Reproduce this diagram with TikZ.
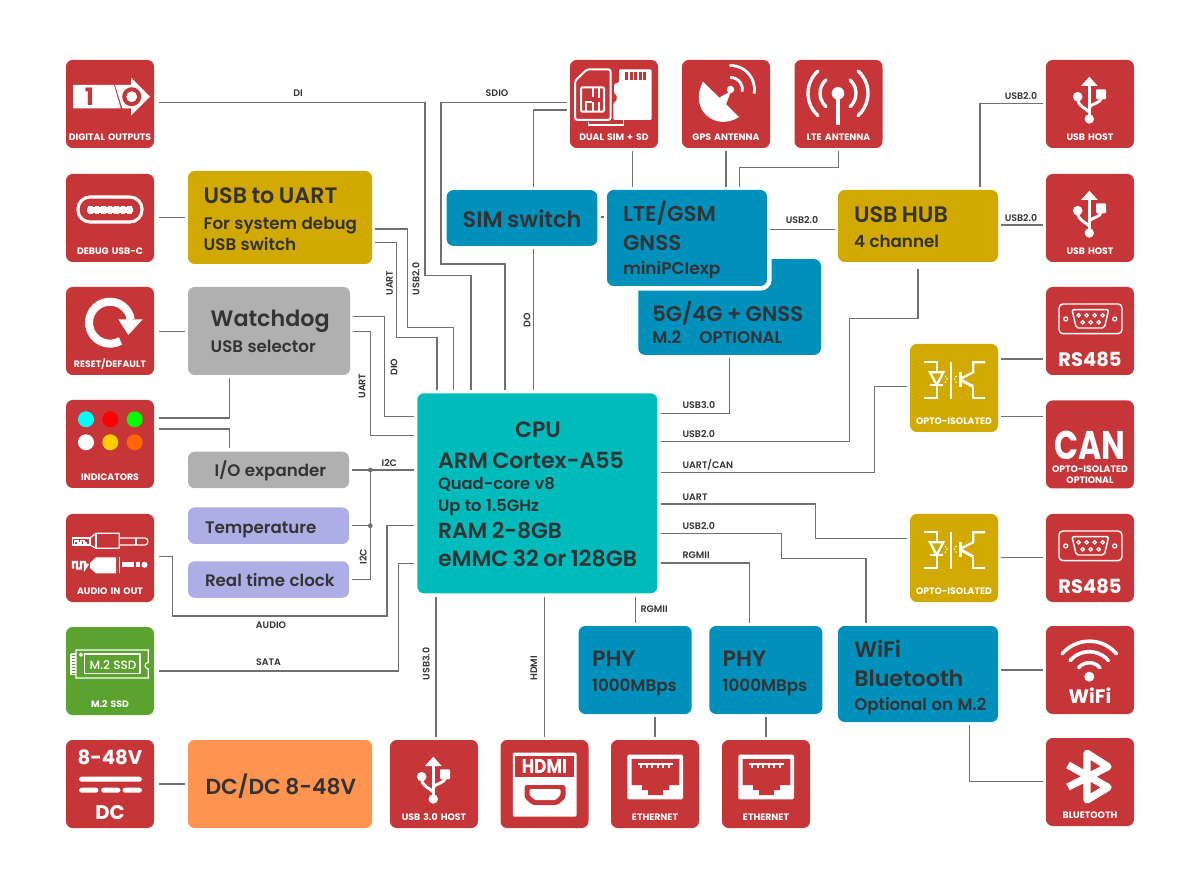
\documentclass[tikz,border=0pt]{standalone}
\usepackage{fontspec}
\setmainfont{Poppins}
\newfontfamily\pmed{Poppins Medium}
\newfontfamily\psemi{Poppins SemiBold}
\newfontfamily\pbold{Poppins Bold}
\newdimen\pxu
\pxu=0.75pt
\newcommand{\fs}[2]{\fontsize{#1}{#2}\selectfont}
\definecolor{cardred}{HTML}{C63638}
\definecolor{boxyellow}{HTML}{D2A900}
\definecolor{boxgray}{HTML}{B0B0B0}
\definecolor{boxblue}{HTML}{0090BC}
\definecolor{boxlilac}{HTML}{AEAEE6}
\definecolor{boxteal}{HTML}{00BBBB}
\definecolor{boxorange}{HTML}{FF9451}
\definecolor{cardgreen}{HTML}{5CA22F}
\definecolor{inkdark}{HTML}{333333}
\definecolor{wiregray}{HTML}{707070}
\definecolor{ledcyan}{HTML}{00FFFF}
\definecolor{ledred}{HTML}{FF0000}
\definecolor{ledgreen}{HTML}{00FF00}
\definecolor{ledyellow}{HTML}{FFCC00}
\definecolor{ledorange}{HTML}{FF6600}
\tikzset{
  sized/.style n args={3}{text width=#1\pxu,minimum height=#2*0.75pt,text height=(#3+1.2)*0.75pt,text depth=(#2-#3-1.2)*0.75pt,inner xsep=0pt,inner ysep=0pt},
  pad/.style={execute at begin node={\leftskip=#1\pxu\relax}},
  box/.style={rounded corners=5pt,outer sep=2.5pt,align=left,text=inkdark,font=\psemi},
  card/.style={sized={88}{88}{#1},rounded corners=5pt,outer sep=2.5pt,fill=cardred,text=white,align=center,font=\pbold\fs{7}{8}},
  leftcard/.style={card=#1,outer sep=3.75pt},
  wire/.style={draw=wiregray,line width=1.05pt},
  lab/.style={text=inkdark,font=\psemi\fs{7.1}{8},inner sep=0pt},
  dot/.style={shape=circle,fill=wiregray,inner sep=0pt,minimum size=3.6pt},
  usbsym/.pic={
    \fill[white] (35,26) -- (51.7,26) -- (43.3,16.7) -- cycle;
    \draw[white,line width=2.4pt] (43.3,26) -- (43.3,59);
    \fill[white] (43.3,59) circle[radius=4.7];
    \fill[white] (31.7,36.7) circle[radius=4.8];
    \fill[white,rounded corners=0.8pt] (50,29.3) rectangle (60,39.3);
    \draw[white,line width=2.2pt] (31.7,38) .. controls (31.7,47) and (40,48) .. (43.3,52);
    \draw[white,line width=2.2pt] (55,38) .. controls (55,43) and (47,43) .. (43.3,47);
  },
  optosym/.pic={
    \draw[white,line width=1.7pt] (14.3,18.3) -- (26.7,18.3) -- (26.7,28.3);
    \draw[white,line width=1.7pt] (20,28.3) -- (33.3,28.3) -- (26.7,41) -- cycle;
    \draw[white,line width=1.7pt] (20,41) -- (33.3,41);
    \draw[white,line width=1.7pt] (26.7,41) -- (26.7,53.7) -- (14.3,53.7);
    \draw[white,line width=1.7pt] (40.7,17.7) -- (40.7,55);
    \draw[white,line width=2.4pt] (50.7,28.3) -- (50.7,42.7);
    \draw[white,line width=1.7pt] (75,18.3) -- (63.3,18.3) -- (63.3,28.3) -- (51,34.5);
    \draw[white,line width=2.2pt] (51,36) -- (63.3,42.7);
    \draw[white,line width=1.7pt] (63.3,42.7) -- (63.3,53.7) -- (75,53.7);
    \fill[white] (35.5,32.5) circle[radius=0.9] (37,35) circle[radius=0.9] (35.5,38) circle[radius=0.9];
    \fill[white] (46,32.5) circle[radius=0.9] (44.5,35) circle[radius=0.9] (46,38) circle[radius=0.9];
  },
  rssym/.pic={
    \draw[white,line width=1.1pt,rounded corners=3pt] (13,17) rectangle (76,46.7);
    \draw[white,line width=1.1pt,rounded corners=1.5pt] (26,22.7) -- (62.7,22.7) -- (58.3,41) -- (30.3,41) -- cycle;
    \draw[white,line width=0.9pt] (19.7,32) circle[radius=2] (68.7,32) circle[radius=2];
    \foreach \x in {32.7,40.7,48.7,56.7}
      \draw[white,line width=0.9pt] (\x,28.3) circle[radius=1.7];
    \foreach \x in {36.7,44.7,52.7}
      \draw[white,line width=0.9pt] (\x,35.3) circle[radius=1.7];
  },
  ethsym/.pic={
    \fill[white,rounded corners=1pt] (16.3,14.7) rectangle (72,59.3);
    \fill[cardred] (20.7,19) -- (68.3,19) -- (68.3,45) -- (58,45) -- (58,50) -- (52,50) -- (52,55) -- (37,55) -- (37,50) -- (31,50) -- (31,45) -- (20.7,45) -- cycle;
    \fill[white] (26.7,22.7) rectangle (61.7,25);
    \foreach \x in {29,34.5,40,45.5,51,56.5}
      \fill[white] (\x,25) rectangle (\x+2,28);
  }
}
\begin{document}
\begin{tikzpicture}[x=0.75pt,y=-0.75pt]
\useasboundingbox (0,0) rectangle (1200,880);

\node[leftcard=79] (dout) at (110,104) {DIGITAL OUTPUTS};
\node[leftcard=79] (debug) at (110,218) {DEBUG USB-C};
\node[leftcard=79] (reset) at (110,331) {RESET/DEFAULT};
\node[leftcard=79] (ind) at (110,444) {INDICATORS};
\node[leftcard=79] (audio) at (110,558) {AUDIO IN OUT};
\node[leftcard=79,fill=cardgreen] (ssd) at (110,671) {M.2 SSD};
\node[leftcard=23] (dcin) at (110,784) {\pbold\fs{14.8}{18}8-48V\\\pbold\fs{14.8}{41.25}DC\par};

\node[card=79] (simcard) at (614,104) {DUAL SIM + SD};
\node[card=79] (gps) at (726,104) {GPS ANTENNA};
\node[card=79] (antn) at (838.5,104) {LTE ANTENNA};
\node[card=79] (hosta) at (1090,104) {USB HOST};
\node[card=79] (hostb) at (1090,218) {USB HOST};
\node[card=78.7,font=\pbold\fs{14.6}{18}] (rsa) at (1090,331) {RS485};
\node[card=57.7] (can) at (1090,444.5) {\pbold\fs{30}{30}\scalebox{0.79}[1]{CAN}\\\pbold\fs{7}{9.5}OPTO-ISOLATED\\\pbold\fs{7}{8.3}OPTIONAL\par};
\node[card=79,fill=boxyellow] (optoa) at (954,388) {OPTO-ISOLATED};
\node[card=79,fill=boxyellow] (optob) at (954,558) {OPTO-ISOLATED};
\node[card=78.7,font=\pbold\fs{14.6}{18}] (rsb) at (1090,558) {RS485};
\node[card=76.7,font=\pbold\fs{14.6}{18}] (wf) at (1090,670) {WiFi};
\node[card=79] (bt) at (1090,782) {BLUETOOTH};
\node[card=79] (usbc) at (434,784) {USB 3.0 HOST};
\node[card=79] (hdmi) at (544.5,784) {};
\node[card=79] (etha) at (655,784) {ETHERNET};
\node[card=79] (ethb) at (766,784) {ETHERNET};

\node[box,fill=boxyellow,sized={184}{93}{31},pad=15.7] (uart) at (280,217.5) {\fs{16.7}{20}USB to UART\\\fs{12.55}{19.5}For system debug\\\fs{12.55}{15.75}USB switch\par};
\node[box,fill=boxgray,sized={162}{88}{38},pad=22.7] (wdog) at (269,331) {\fs{16.7}{20}Watchdog\\\fs{12.5}{19.5}USB selector\par};
\node[box,fill=boxgray,sized={161}{36.5}{24},pad=26.7] (ioex) at (268.5,470) {\fs{12.5}{16}I/O expander};
\node[box,fill=boxlilac,sized={161}{36.5}{24.4},pad=17] (temp) at (268.5,525.7) {\fs{12.5}{16}Temperature};
\node[box,fill=boxlilac,sized={161}{36.5}{23.7},pad=17] (rtc) at (268.5,579.5) {\fs{12.5}{16}Real time clock};
\node[box,fill=boxorange,sized={184}{88}{53.3},pad=17.6] (dcdc) at (280,784) {\fs{16.35}{20}DC/DC 8-48V};

\node[box,fill=boxteal,sized={240}{200}{43.4},pad=20.7] (cpu) at (537.3,493.3) {\fs{16.6}{20}\hspace*{77\pxu}CPU\\\fs{16.6}{22.9}ARM Cortex-A55\\\fs{12.25}{15.75}Quad-core v8\\\fs{12.25}{16.3}Up to 1.5GHz\\\fs{16.4}{20.8}RAM 2-8GB\\\fs{16.6}{20.5}eMMC 32 or 128GB\par};

\node[box,fill=boxblue,sized={150.6}{55.7}{35.7},pad=16] (simsw) at (522,218) {\fs{16.8}{20}SIM switch};
\node[box,fill=boxblue,sized={182.7}{95.7}{60.7},pad=14] (modem) at (729.6,307) {\fs{15.85}{20}5G/4G + GNSS\\\fs{12.6}{17}M.2\hspace*{18\pxu}OPTIONAL\par};
\node[box,fill=boxblue,sized={160}{96}{30},pad=16,preaction={draw=white,line width=7pt}] (lte) at (687,238) {\fs{16.1}{20}LTE/GSM\\\fs{16.1}{21.75}GNSS\\\fs{12.7}{18.2}miniPCIexp\par};
\node[box,fill=boxyellow,sized={160}{72}{31},pad=16] (hub) at (918,226) {\fs{16.75}{20}USB HUB\\\fs{12.55}{19.3}4 channel\par};
\node[box,fill=boxblue,sized={160}{96}{30.7},pad=16.3] (wifibt) at (918,674) {\fs{16.65}{20}WiFi\\\fs{16.65}{21.75}Bluetooth\\\fs{12.45}{17.5}Optional on M.2\par};
\node[box,fill=boxblue,sized={113}{88}{39.3},pad=13.3] (phya) at (635.2,670) {\fs{16.65}{20}PHY\\\fs{12.55}{18.5}1000MBps\par};
\node[box,fill=boxblue,sized={113}{88}{39.3},pad=13.3] (phyb) at (765.8,670) {\fs{16.65}{20}PHY\\\fs{12.55}{18.5}1000MBps\par};

\fill[white] (73,85) -- (114,85) -- (120.7,108.3) -- (73,108.3) -- cycle;
\fill[white] (115,85) -- (131,85) -- (131,77.7) -- (150,96.7) -- (131,115.7) -- (131,108.3) -- (122.3,108.3) -- cycle;
\fill[cardred] (131.7,96.7) circle[radius=9.5];
\fill[white] (131.7,96.7) circle[radius=5.4];
\node[text=cardred,font=\pbold\fs{18}{20},inner sep=0pt] (onedigit) at (89.5,96.7) {1};

\draw[white,line width=2.3pt,rounded corners=9pt] (78,197) rectangle (142,222);
\fill[white,rounded corners=1pt] (87,207) rectangle (133,213);
\foreach \x in {88,94.5,101,107.5,114,120.5,127}
  \fill[white] (\x,205.7) rectangle (\x+4.5,214.3);

\draw[white,line width=6pt] (110,322.7) ++(-8:21) arc[start angle=-8,end angle=-300,radius=21];
\fill[white] (118.3,319.3) -- (142.7,319.3) -- (128.3,335) -- cycle;

\fill[ledcyan] (86,419.3) circle[radius=8];
\fill[ledred] (110.3,419.3) circle[radius=8];
\fill[ledgreen] (134.7,419.3) circle[radius=8];
\fill[white] (86,442.3) circle[radius=8];
\fill[ledyellow] (110.3,442.3) circle[radius=8];
\fill[ledorange] (134.7,442.3) circle[radius=8];

\begin{scope}[shift={(66,514)}]
\draw[white,line width=0.9pt] (6.7,24) rectangle (24,31);
\draw[white,line width=0.8pt] (8.5,31) -- (8.5,27) -- (12,27) -- (12,29) -- (15,29) -- (15,26.5) -- (18,26.5) -- (18,29) -- (21,29);
\draw[white,line width=0.9pt] (24,24) -- (30,19.3) -- (53.3,19.3) -- (53.3,34.3) -- (30,34.3) -- (24,31);
\draw[white,line width=0.9pt] (30,19.3) -- (30,34.3);
\draw[white,line width=0.9pt,rounded corners=2pt] (53.3,24) -- (81.7,24) -- (81.7,31) -- (53.3,31);
\draw[white,line width=0.9pt] (70,24) -- (70,31);
\draw[white,line width=1.6pt] (7,54.5) -- (7,48) -- (11,48) -- (11,54.5) -- (15,54.5) -- (15,48) -- (19,48) -- (19,54.5) -- (22,50);
\fill[white] (24,49) -- (30,43.3) -- (50,43.3) -- (50,59.3) -- (30,59.3) -- (24,54) -- cycle;
\draw[white,line width=0.9pt] (53.3,43.3) -- (53.3,59.3);
\fill[white] (56,48.3) rectangle (68.3,53.3);
\fill[white] (69.7,48.3) rectangle (74,53.3);
\fill[white] (78.5,50.8) circle[radius=3];
\end{scope}

\begin{scope}[shift={(66,627)}]
\draw[white,line width=0.9pt] (10,23) -- (82.3,23) -- (82.3,35.5) arc[start angle=-90,end angle=-270,radius=3.2] -- (82.3,51) -- (10,51) -- cycle;
\draw[white,line width=0.9pt] (18.3,27) rectangle (74,46.3);
\draw[white,line width=0.8pt] (15,27.7) circle[radius=1.5];
\foreach \y in {27,30,33,36,39,42,45,47.7}
  \draw[white,line width=0.8pt] (5,\y) -- (10,\y);
\draw[white,line width=0.8pt] (5,27) -- (5,47.7);
\node[text=white,font=\pmed\fs{9}{11},inner sep=0pt] (ssdlabel) at (47,37.7) {M.2 SSD};
\end{scope}

\fill[white,rounded corners=2pt] (79,776.7) rectangle (142,781.7);
\foreach \x in {79,101,122.5}
  \fill[white,rounded corners=2pt] (\x,787.7) rectangle (\x+19.5,792.7);

\begin{scope}[shift={(570,60)}]
\draw[white,line width=1.5pt,rounded corners=2pt] (5,21) -- (17,9.3) -- (40.7,9.3) -- (40.7,60) -- (5,60) -- cycle;
\draw[white,line width=1.5pt,rounded corners=1pt] (11,27.3) rectangle (34,51.7);
\draw[white,line width=1.5pt] (16,51) -- (16,42) -- (22,42);
\draw[white,line width=1.5pt] (23,28) -- (23,37) (29,28) -- (29,38) (29,42) -- (29,51) (23,42) -- (23,51);
\fill[white,rounded corners=1pt] (49,9.3) -- (81.7,9.3) -- (81.7,60) -- (43.3,60) -- (43.3,43) -- (46.7,41) -- (46.7,35) -- (44,33.3) -- (44,24) -- (49,22.7) -- cycle;
\foreach \x in {55,59.5,64,68.5,73}
  \fill[cardred] (\x,12.3) rectangle (\x+3.3,20);
\draw[white,line width=1.2pt] (18.3,61.7) -- (18.3,65) -- (53.3,65) -- (53.3,60);
\end{scope}

\begin{scope}[shift={(682,60)}]
\fill[white] (21,21.7) .. controls (6,50) and (34,72) .. (57,57) -- cycle;
\fill[white] (35,39) -- (43,47) -- (49,31) -- cycle;
\fill[white] (48.5,29.5) circle[radius=3.7];
\draw[white,line width=2.1pt] (48.5,29.5) ++(-92:12) arc[start angle=-92,end angle=10,radius=12];
\draw[white,line width=2.1pt] (48.5,29.5) ++(-92:24) arc[start angle=-92,end angle=10,radius=24];
\end{scope}

\begin{scope}[shift={(794.5,60)}]
\fill[white] (43.5,33.3) circle[radius=6.3];
\draw[white,line width=3pt] (43.5,33.3) -- (43.5,65);
\foreach \r in {18,30}
  {\draw[white,line width=2.5pt,line cap=round] (43.5,33.3) ++(-48:\r) arc[start angle=-48,end angle=48,radius=\r];
   \draw[white,line width=2.5pt,line cap=round] (43.5,33.3) ++(132:\r) arc[start angle=132,end angle=228,radius=\r];}
\end{scope}

\pic at (1046,60) {usbsym};
\pic at (1046,174) {usbsym};
\pic at (390,740) {usbsym};
\pic at (910,344) {optosym};
\pic at (910,514) {optosym};
\pic at (1046,287) {rssym};
\pic at (1046,514) {rssym};
\pic at (611,740) {ethsym};
\pic at (722,740) {ethsym};

\begin{scope}[shift={(500.5,740)}]
\fill[white,rounded corners=1pt] (12.3,12.7) rectangle (76,76.7);
\fill[cardred] (14.5,16) rectangle (73.8,36.7);
\node[text=white,font=\pbold\fs{15}{17},inner sep=0pt] (hdmiword) at (44,26.5) {\scalebox{0.85}[1]{HDMI}};
\fill[cardred,rounded corners=2pt] (24,45) -- (65,45) -- (65,58) -- (57,65) -- (32,65) -- (24,58) -- cycle;
\fill[white,rounded corners=1pt] (29,49) -- (60,49) -- (60,55) -- (55,60) -- (34,60) -- (29,55) -- cycle;
\end{scope}

\begin{scope}[shift={(1046,626)}]
\fill[white] (43.3,50.7) circle[radius=5];
\foreach \r in {14,25,35.5}
  \draw[white,line width=2.7pt,line cap=round] (43.3,50.7) ++(-140:\r) arc[start angle=-140,end angle=-40,radius=\r];
\end{scope}

\begin{scope}[shift={(1046,738)}]
\draw[white,line width=5.5pt,line join=round] (22,27) -- (62,49.3) -- (41,62) -- (41,15.3) -- (62,28.7) -- (22,49);
\end{scope}

\node[dot] (i2ca) at (370.3,470) {};
\node[dot] (i2cb) at (370.3,525.7) {};

\draw[wire] (dout.east |- 0,102.5) -| (425,275.5) -| (471,0 |- cpu.north);
\draw[wire] (uart.east |- 0,229) -| (407.5,327.5) -| (453.5,0 |- cpu.north);
\draw[wire] (uart.east |- 0,242.5) -| (396.5,337.5) -| (437,0 |- cpu.north);
\draw[wire] (simcard.west |- 0,102.5) -| (441,264) -| (505,0 |- cpu.north);
\draw[wire] (simcard.west |- 0,110) -| (533.5,0 |- simsw.north);
\draw[wire] (533.5,0 |- simsw.south) -- (533.5,0 |- cpu.north);
\draw[wire] (simsw.east |- 0,217) -- (lte.west |- 0,217);
\draw[wire] (632.7,0 |- simcard.south) -- (632.7,0 |- lte.north);
\draw[wire] (gps.south) -- (gps.south |- lte.north);
\draw[wire] (antn.south) |- (739.5,167.5) -- (739.5,0 |- lte.north);
\draw[wire] (lte.east |- 0,229.5) -- (hub.west |- 0,229.5);
\draw[wire] (modem.south) |- (cpu.east |- 0,413.5);
\draw[wire] ([yshift=-3pt]hub.south) |- (849.5,318.5) |- (cpu.east |- 0,441.5);
\draw[wire] (optoa.west |- 0,386.7) -| (874.5,472.3) -- (cpu.east |- 0,472.3);
\draw[wire] (optoa.east |- 0,359) -- (rsa.west |- 0,359);
\draw[wire] (optoa.east |- 0,416.7) -- (can.west |- 0,416.7);
\draw[wire] (980,0 |- hub.north) |- (hosta.west |- 0,103.3);
\draw[wire] (hub.east |- 0,225) -- (hostb.west |- 0,225);
\draw[wire] (cpu.east |- 0,504) -| (815.7,538.7) -- (optob.west |- 0,538.7);
\draw[wire] (cpu.east |- 0,533.7) -| (781.7,558.3) -| (866,0 |- wifibt.north);
\draw[wire] (cpu.east |- 0,563) -| (749.3,0 |- phyb.north);
\draw[wire] (phya.north |- cpu.south) -- (phya.north);
\draw[wire] (436,0 |- cpu.south) -- (436,0 |- usbc.north);
\draw[wire] (hdmi.north |- cpu.south) -- (hdmi.north);
\draw[wire] (etha.north |- phya.south) -- (etha.north);
\draw[wire] (ethb.north |- phyb.south) -- (ethb.north);
\draw[wire] (optob.east |- 0,557.7) -- (rsb.west |- 0,557.7);
\draw[wire] (wifibt.east |- 0,670) -- (wf.west |- 0,670);
\draw[wire] (969.3,0 |- wifibt.south) |- (bt.west |- 0,781.7);
\draw[wire] (debug.east |- 0,217.7) -- (uart.west |- 0,217.7);
\draw[wire] (reset.east |- 0,331.5) -- (wdog.west |- 0,331.5);
\draw[wire] (dcin.east) -- (dcdc.west);
\draw[wire] (wdog.east |- 0,316.7) -| (384.5,416.5) -- (cpu.west |- 0,416.5);
\draw[wire] (wdog.east |- 0,331.7) -| (370.3,435.7) -- (cpu.west |- 0,435.7);
\draw[wire] (ind.east |- 0,418) -| (229.3,0 |- wdog.south);
\draw[wire] (ind.east |- 0,429) -| (229.3,0 |- ioex.north);
\draw[wire] (ioex.east) -- (cpu.west |- ioex.east);
\draw[wire] (temp.east) -- (i2cb.center);
\draw[wire] (rtc.east) -| (i2ca.center);
\draw[wire] (audio.east |- 0,556.7) -| (172.3,616) -| (387,525.7) -- (cpu.west |- 0,525.7);
\draw[wire] (ssd.east |- 0,671) -| (398.7,563.3) -- (cpu.west |- 0,563.3);

\node[lab] (ldi) at (298,93) {DI};
\node[lab] (lsdio) at (497,93) {SDIO};
\node[lab] (lhosta) at (1021,96) {USB2.0};
\node[lab] (lhostb) at (1021,218) {USB2.0};
\node[lab] (lhub) at (802,220.5) {USB2.0};
\node[lab,rotate=90] (luart) at (389.5,283) {UART};
\node[lab,rotate=90] (lusbd) at (416,279) {USB2.0};
\node[lab,rotate=90] (ldio) at (394,367) {DIO};
\node[lab,rotate=90] (lwd) at (362,386) {UART};
\node[lab,rotate=90] (ldo) at (527,320) {DO};
\node[lab,anchor=west] (lusbt) at (682.3,405.3) {USB3.0};
\node[lab,anchor=west] (lusbh) at (682.3,433.7) {USB2.0};
\node[lab,anchor=west] (lcan) at (682.3,464.7) {UART/CAN};
\node[lab,anchor=west] (lur) at (682.3,497) {UART};
\node[lab,anchor=west] (lusbw) at (682.3,526.3) {USB2.0};
\node[lab,anchor=west] (lrga) at (682.3,554.7) {RGMII};
\node[lab,anchor=west] (lrgb) at (640.3,609) {RGMII};
\node[lab] (li2c) at (389.3,463) {I2C};
\node[lab,rotate=90] (li2cb) at (363,556.7) {I2C};
\node[lab] (laudio) at (271,625) {AUDIO};
\node[lab] (lsata) at (268.5,662) {SATA};
\node[lab,rotate=90] (lusbc) at (426,664) {USB3.0};
\node[lab,rotate=90] (lhdmi) at (533.7,668.3) {HDMI};
\end{tikzpicture}
\end{document}
